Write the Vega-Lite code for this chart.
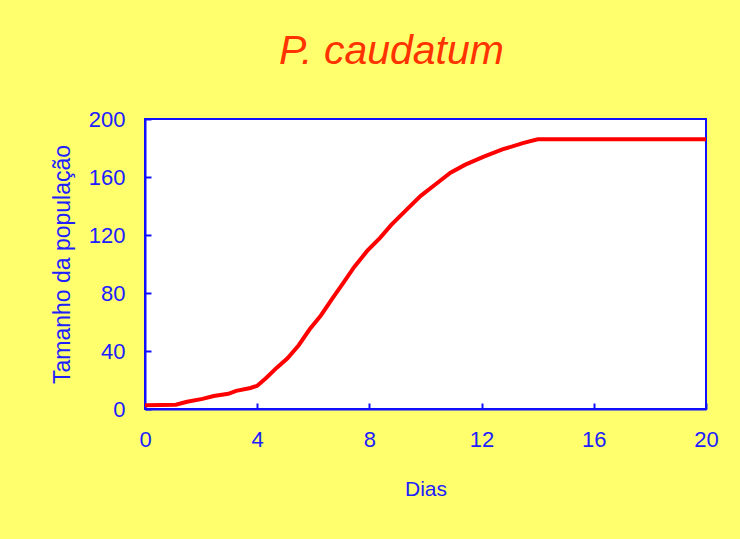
{
  "$schema": "https://vega.github.io/schema/vega-lite/v6.json",
  "autosize": "none",
  "width": 561,
  "height": 290,
  "padding": {"left": 145, "top": 119, "right": 34, "bottom": 130},
  "background": "#ffff6e",
  "title": {
    "text": "P. caudatum",
    "font": "Liberation Sans",
    "fontSize": 41,
    "fontStyle": "italic",
    "fontWeight": "normal",
    "color": "#ff3300",
    "anchor": "middle",
    "dx": -34,
    "offset": 35
  },
  "data": {
    "values": [
      {"dia": 0, "pop": 2.5},
      {"dia": 1.1, "pop": 3},
      {"dia": 1.5, "pop": 5},
      {"dia": 2.05, "pop": 7},
      {"dia": 2.45, "pop": 9},
      {"dia": 2.97, "pop": 10.5},
      {"dia": 3.25, "pop": 12.5},
      {"dia": 3.76, "pop": 14.5},
      {"dia": 4.0, "pop": 16},
      {"dia": 4.3, "pop": 21},
      {"dia": 4.7, "pop": 28.5},
      {"dia": 5.08, "pop": 35},
      {"dia": 5.48, "pop": 44},
      {"dia": 5.87, "pop": 55},
      {"dia": 6.27, "pop": 64.5},
      {"dia": 6.67, "pop": 76},
      {"dia": 7.07, "pop": 87},
      {"dia": 7.46, "pop": 98},
      {"dia": 7.92, "pop": 109},
      {"dia": 8.38, "pop": 118},
      {"dia": 8.78, "pop": 127},
      {"dia": 9.3, "pop": 137},
      {"dia": 9.83, "pop": 147},
      {"dia": 10.36, "pop": 155},
      {"dia": 10.89, "pop": 163},
      {"dia": 11.42, "pop": 168.5},
      {"dia": 12.08, "pop": 174},
      {"dia": 12.74, "pop": 179},
      {"dia": 13.5, "pop": 183.5},
      {"dia": 14.0, "pop": 186},
      {"dia": 20, "pop": 186}
    ]
  },
  "mark": {"type": "line", "color": "#ff0000", "strokeWidth": 4, "clip": true},
  "encoding": {
    "x": {
      "field": "dia",
      "type": "quantitative",
      "scale": {"domain": [0, 20], "nice": false, "zero": false},
      "axis": {
        "title": "Dias",
        "values": [0, 4, 8, 12, 16, 20],
        "grid": false,
        "tickSize": -6,
        "labelPadding": 26,
        "labelFlush": false,
        "titlePadding": 28,
        "titleFontSize": 21
      }
    },
    "y": {
      "field": "pop",
      "type": "quantitative",
      "scale": {"domain": [0, 200], "nice": false},
      "axis": {
        "title": "Tamanho da população",
        "values": [0, 40, 80, 120, 160, 200],
        "grid": false,
        "tickSize": -6,
        "labelPadding": 26,
        "titlePadding": 14,
        "titleFontSize": 23
      }
    }
  },
  "config": {
    "view": {"fill": "#ffffff", "stroke": "#1010ff", "strokeWidth": 2},
    "axis": {
      "domainColor": "#1010ff",
      "domainWidth": 2,
      "tickColor": "#1010ff",
      "tickWidth": 2,
      "labelColor": "#2020ff",
      "labelFont": "Liberation Sans",
      "labelFontSize": 22,
      "titleColor": "#2020ff",
      "titleFont": "Liberation Sans",
      "titleFontWeight": "normal"
    }
  }
}
